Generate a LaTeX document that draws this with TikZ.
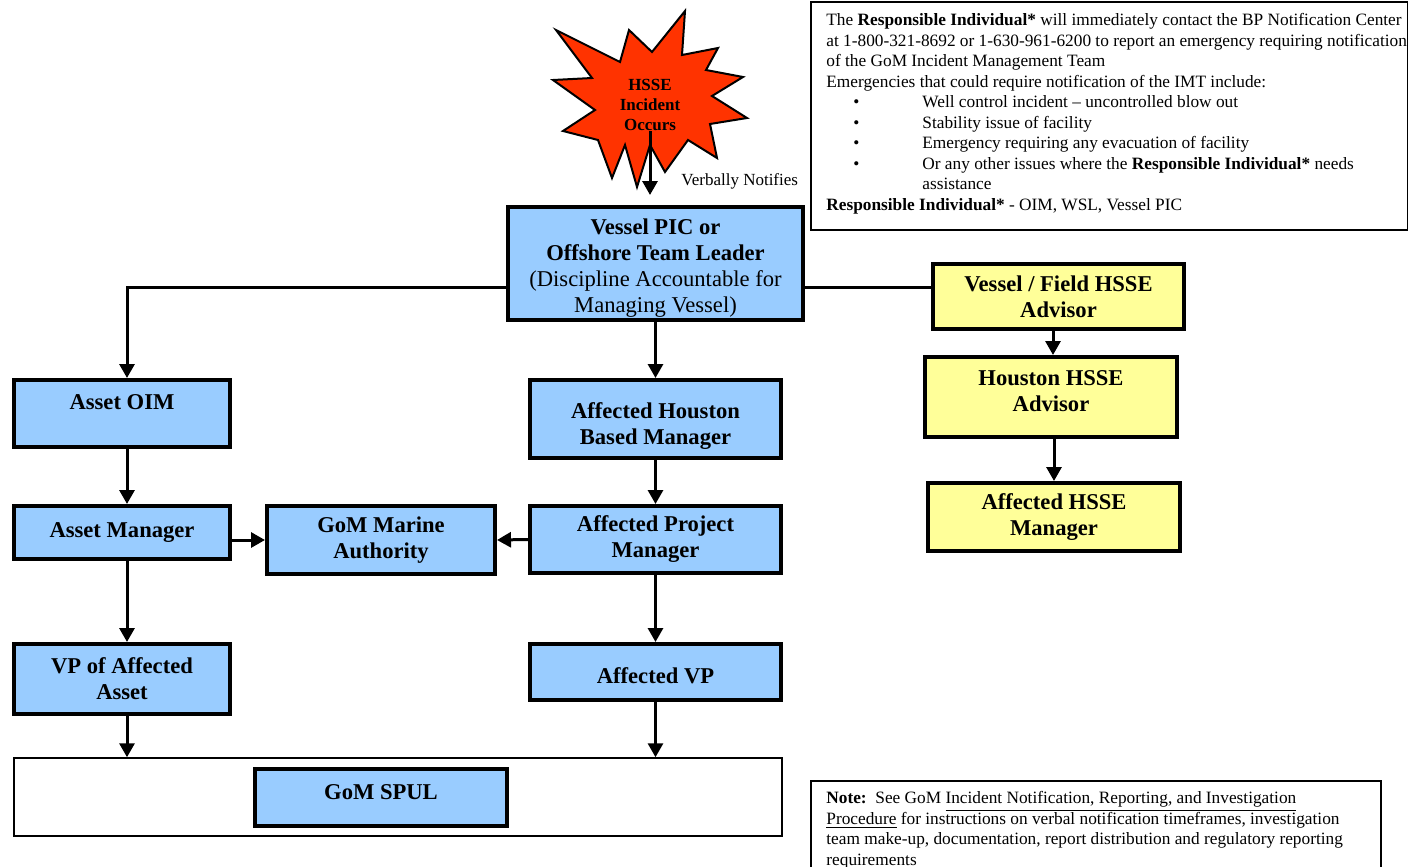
\documentclass[tikz,border=0pt]{standalone}
\usepackage{fontspec}
\setmainfont{Liberation Serif}
\usetikzlibrary{positioning,arrows.meta}

\definecolor{boxblue}{HTML}{99CCFF}
\definecolor{boxyellow}{HTML}{FFFF99}
\definecolor{burst}{HTML}{FF3300}

\begin{document}
\begin{tikzpicture}[x=0.5pt,y=-0.5pt,on grid,
    >={Triangle[width=7.5pt,length=7pt]},
    bluebox/.style={draw,line width=2pt,fill=boxblue,align=center,inner sep=0pt,
      font=\fontsize{11.3}{13}\selectfont\bfseries},
    yellowbox/.style={bluebox,fill=boxyellow},
    link/.style={->,line width=1.5pt},
    smalltext/.style={align=left,inner sep=0pt,font=\fontsize{8.65}{10.25}\selectfont}]
   \useasboundingbox (0,0) rectangle (1408,867);

   % incident burst
   \draw[fill=burst,line width=1pt,line join=miter]
     (556,30) -- (620,62) -- (629,30) -- (652,52) -- (685,11) -- (682,55)
     -- (718,48) -- (706,70) -- (743,77) -- (712,96) -- (747,118) -- (710,124)
     -- (717,158) -- (688,140) -- (665,172) -- (650,145) -- (637,187) -- (625,145)
     -- (612,178) -- (598,140) -- (563,131) -- (595,110) -- (553,80) -- (592,78) -- cycle;
   \node[align=center,inner sep=0pt,font=\fontsize{8.5}{10}\selectfont\bfseries] (incident) at (650,105) {HSSE\\ Incident\\ Occurs};

   % middle column
   \node[bluebox,minimum width=147.5pt,minimum height=56.5pt,text height=51.5pt] (vessel) at (655.5,263.5)
     {Vessel PIC or\\ Offshore Team Leader\\ \mdseries(Discipline Accountable for\\ \mdseries Managing Vessel)};
   \node[bluebox,minimum width=125.5pt,minimum height=39pt,text height=27.7pt] (houston) [below=77.75pt of vessel] {Affected Houston\\ Based Manager};
   \node[bluebox,minimum width=125.5pt,minimum height=33.5pt] (project) [below=60.25pt of houston] {Affected Project\\ Manager};
   \node[bluebox,minimum width=125.5pt,minimum height=28pt,text height=11.7pt] (affvp) [below=66.25pt of project] {Affected VP};

   % left column
   \node[bluebox,minimum width=108pt,minimum height=33.5pt,text depth=11.5pt] (assetoim) at (122,413.5) {Asset OIM};
   \node[bluebox,minimum width=108pt,minimum height=26.5pt] (assetmgr) [below=59.5pt of assetoim] {Asset Manager};
   \node[bluebox,minimum width=108pt,minimum height=35pt] (vpasset) [below=73.25pt of assetmgr] {VP of Affected\\ Asset};
   \node[bluebox,minimum width=114pt,minimum height=34pt] (marine) at (381,540) {GoM Marine\\ Authority};

   % SPUL
   \node[draw,line width=0.75pt,minimum width=384pt,minimum height=39pt] (spulframe) at (398,797) {};
   \node[bluebox,minimum width=126pt,minimum height=28.5pt,text depth=5.5pt] (spul) at (381,797.5) {GoM SPUL};

   % HSSE column
   \node[yellowbox,minimum width=125.5pt,minimum height=32.5pt] (fieldhsse) at (1058.5,296.5) {Vessel / Field HSSE\\ Advisor};
   \node[yellowbox,minimum width=126pt,minimum height=40pt,text depth=6pt] (houstonhsse) at (1051,397) {Houston HSSE\\ Advisor};
   \node[yellowbox,minimum width=126pt,minimum height=34pt] (affhsse) at (1054,517) {Affected HSSE\\ Manager};

   % connectors
   \draw[link,shorten >=5pt] (incident.south) -- (incident.south |- vessel.north);
   \node[anchor=west,inner sep=0pt,font=\fontsize{8.5}{10}\selectfont] (notifies) at (681,181) {Verbally Notifies};
   \draw[link] ([yshift=-11.75pt]vessel.west) -| ([xshift=2.5pt]assetoim.north);
   \draw[line width=1.5pt] ([yshift=-11.75pt]vessel.east) -- ([yshift=4.75pt]fieldhsse.west);
   \draw[link] (vessel.south) -- (vessel.south |- houston.north);
   \draw[link] (houston) -- (project);
   \draw[link] (project) -- (affvp);
   \draw[link] (project.west) -- (marine.east);
   \draw[link] (assetmgr.east |- marine.west) -- (marine.west);
   \draw[link] ([xshift=2.5pt]assetoim.south) -- ([xshift=2.5pt]assetmgr.north);
   \draw[link] ([xshift=2.5pt]assetmgr.south) -- ([xshift=2.5pt]vpasset.north);
   \draw[link] ([xshift=2.5pt]vpasset.south) -- ([xshift=2.5pt]vpasset.south |- spulframe.north);
   \draw[link] (affvp.south) -- (affvp.south |- spulframe.north);
   \draw[link] ([xshift=1pt]houstonhsse.north |- fieldhsse.south) -- ([xshift=1pt]houstonhsse.north);
   \draw[link] (affhsse.north |- houstonhsse.south) -- (affhsse.north);

   % notification text
   \node[draw,line width=1pt,minimum width=298.5pt,minimum height=114pt,anchor=north west,inner sep=0pt] (imtframe) at (810,1) {};
   \node[smalltext,anchor=north west] (imttext) at (826,13)
     {The \textbf{Responsible Individual*} will immediately contact the BP Notification Center\\
      at 1-800-321-8692 or 1-630-961-6200 to report an emergency requiring notification\\
      of the GoM Incident Management Team\\
      Emergencies that could require notification of the IMT include:\\
      \hspace*{13.5pt}\makebox[34.5pt][l]{\textbullet}Well control incident -- uncontrolled blow out\\
      \hspace*{13.5pt}\makebox[34.5pt][l]{\textbullet}Stability issue of facility\\
      \hspace*{13.5pt}\makebox[34.5pt][l]{\textbullet}Emergency requiring any evacuation of facility\\
      \hspace*{13.5pt}\makebox[34.5pt][l]{\textbullet}Or any other issues where the \textbf{Responsible Individual*} needs\\
      \hspace*{48pt}assistance\\
      \textbf{Responsible Individual*} - OIM, WSL, Vessel PIC};

   % note
   \draw[line width=1pt] (811,867) |- (1381,781) -- (1381,867);
   \node[smalltext,anchor=north west] (notetext) at (826,791)
     {\textbf{Note:}\ \ See GoM \underline{Incident Notification, Reporting, and Investigation}\\
      \underline{Procedure} for instructions on verbal notification timeframes, investigation\\
      team make-up, documentation, report distribution and regulatory reporting\\
      requirements};
\end{tikzpicture}
\end{document}
